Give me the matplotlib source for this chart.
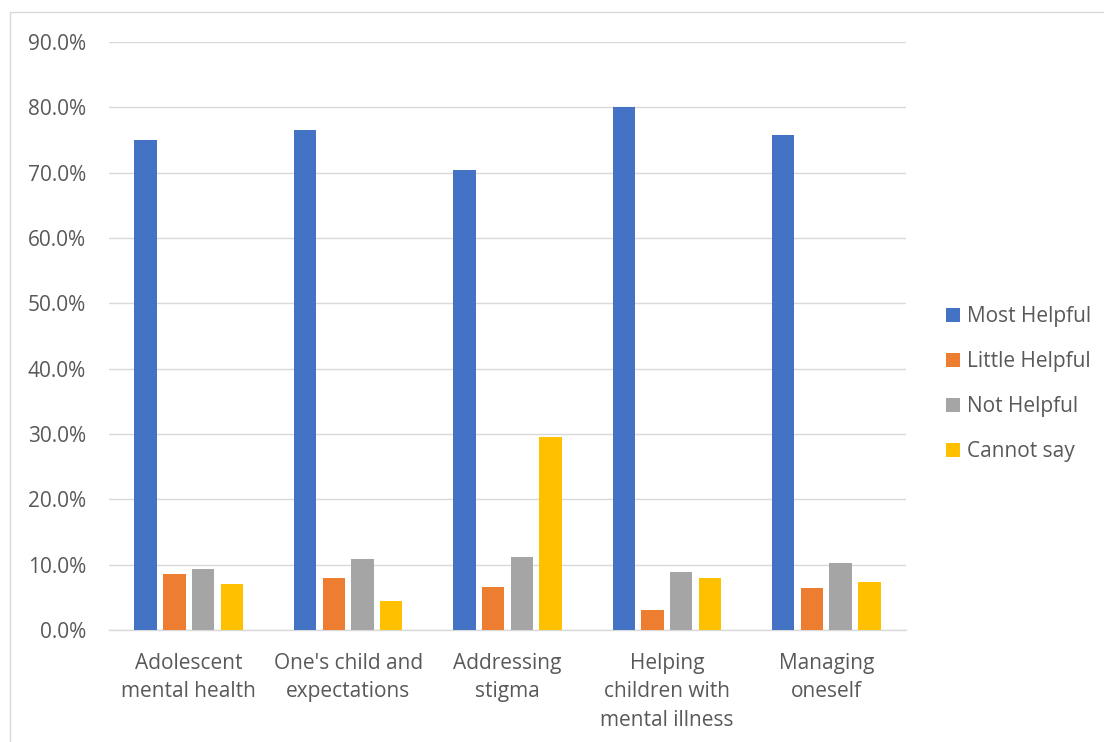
import matplotlib
matplotlib.use("Agg")
import matplotlib.pyplot as plt
import numpy as np
from matplotlib.patches import Rectangle
from matplotlib.ticker import FuncFormatter

categories = ["Adolescent\nmental health", "One's child and\nexpectations", "Addressing\nstigma",
              "Helping\nchildren with\nmental illness", "Managing\noneself"]
series_names = ["Most Helpful", "Little Helpful", "Not Helpful", "Cannot say"]
most_helpful = [75.0, 76.6, 70.4, 80.0, 75.7]
little_helpful = [8.6, 8.0, 6.6, 3.0, 6.5]
not_helpful = [9.3, 10.8, 11.1, 8.9, 10.3]
cannot_say = [7.1, 4.4, 29.6, 8.0, 7.4]
colors = ["#4472C4", "#ED7D31", "#A5A5A5", "#FFC000"]

plt.rcParams['font.family'] = ['Open Sans', 'DejaVu Sans']
W, H = 1104, 742
fig = plt.figure(figsize=(W/100, H/100), dpi=100)
ax = fig.add_axes([109/W, 1-630/H, (906-109)/W, (630-42)/H])

fig.patches.append(Rectangle((10/W, -0.01), 1.1, 1-12/H+0.01, transform=fig.transFigure,
                             fill=False, edgecolor="#D9D9D9", linewidth=1.0))

x = np.arange(len(categories))
w = 0.141
pitch = 0.18
data = [most_helpful, little_helpful, not_helpful, cannot_say]
for i, (vals, name, c) in enumerate(zip(data, series_names, colors)):
    ax.bar(x + (i-1.5)*pitch, vals, width=w, color=c, label=name, zorder=3)

ax.set_xlim(-0.5, 4.5)
ax.set_ylim(0, 90)
ax.set_yticks(np.arange(0, 91, 10))
ax.yaxis.set_major_formatter(FuncFormatter(lambda v, p: f"{v:.1f}%"))
ax.grid(axis='y', color="#D9D9D9", linewidth=1.0, zorder=0)
for s in ['top', 'right', 'left']:
    ax.spines[s].set_visible(False)
ax.spines['bottom'].set_color("#D9D9D9")
ax.spines['bottom'].set_linewidth(1.0)
ax.tick_params(axis='both', length=0, colors="#595959")
ax.tick_params(axis='y', pad=16.5, labelsize=15)
ax.tick_params(axis='x', pad=16.5, labelsize=15)
ax.set_xticks(x)
ax.set_xticklabels(categories, linespacing=1.47)

leg = fig.legend(loc='center left', bbox_to_anchor=(946/W, 1-384/H), frameon=False,
                 fontsize=15, handlelength=0.67, handleheight=0.67, labelspacing=1.15,
                 handletextpad=0.35, borderpad=0, borderaxespad=0, labelcolor="#595959")

fig.savefig("out.png", dpi=100)
